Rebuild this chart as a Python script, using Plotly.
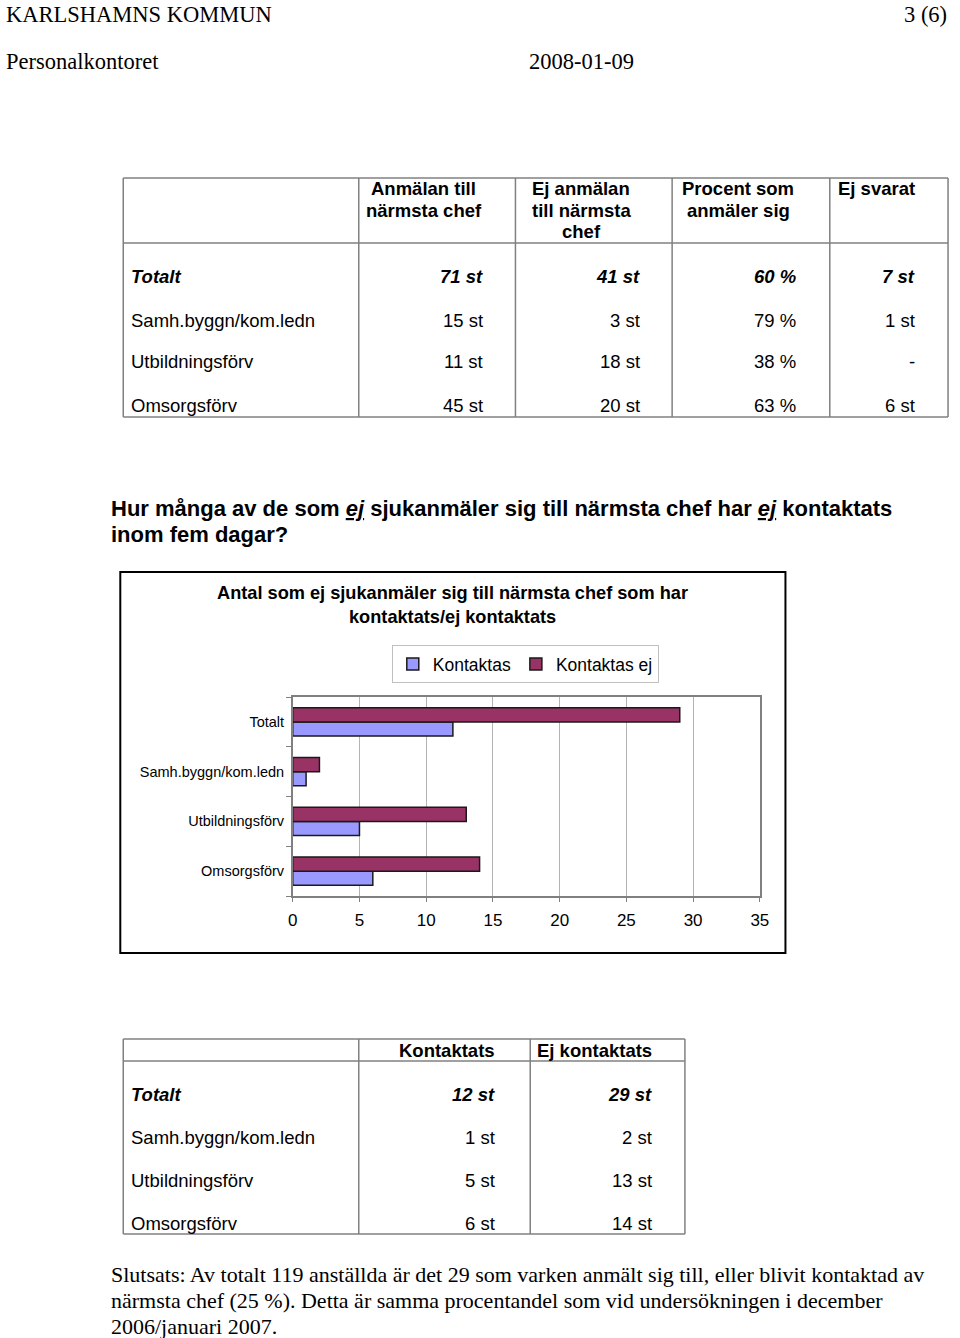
import plotly.graph_objects as go

W, H = 960, 1338

# ---------------- data ----------------
categories = ["Totalt", "Samh.byggn/kom.ledn", "Utbildningsförv", "Omsorgsförv"]
kontaktas = [12, 1, 5, 6]
kontaktas_ej = [29, 2, 13, 14]

anmalan = [71, 15, 11, 45]
ej_anmalan = [41, 3, 18, 20]
procent = [60, 79, 38, 63]
ej_svarat = [7, 1, None, 6]

table1_headers = [["Anmälan till", "närmsta chef"],
                  ["Ej anmälan", "till närmsta", "chef"],
                  ["Procent som", "anmäler sig"],
                  ["Ej svarat"]]
table2_headers = ["Kontaktats", "Ej kontaktats"]

SANS = "Liberation Sans"
SERIF = "Liberation Serif"


def px(x):
    return x / W


def py(y):
    return 1 - y / H


annotations = []
shapes = []


def text(t, x, y, size, family=SANS, xanchor="left", color="black"):
    annotations.append(dict(
        text=t, x=px(x), y=py(y), xref="paper", yref="paper",
        xanchor=xanchor, yanchor="middle", showarrow=False,
        font=dict(family=family, size=size, color=color), borderpad=0))


def line(x0, y0, x1, y1, color="#808080", width=1.5):
    shapes.append(dict(type="line", xref="paper", yref="paper",
                       x0=px(x0), y0=py(y0), x1=px(x1), y1=py(y1),
                       line=dict(color=color, width=width)))


# ---------------- page header ----------------
text("KARLSHAMNS KOMMUN", 0, 14.5, 22.5, SERIF)
text("3 (6)", 957, 14.5, 22.5, SERIF, xanchor="right")
text("Personalkontoret", 0, 62, 22.5, SERIF)
text("2008-01-09", 531, 62, 22.5, SERIF)

# ---------------- table 1 ----------------
T1_L, T1_R, T1_T, T1_B, T1_HB = 120, 957, 178, 417, 243
t1_cols = [359, 518, 677, 837]
line(T1_L, T1_T, T1_R, T1_T)
line(T1_L, T1_B, T1_R, T1_B)
line(T1_L, T1_HB, T1_R, T1_HB)
line(T1_L, T1_T, T1_L, T1_B)
line(T1_R, T1_T, T1_R, T1_B)
for c in t1_cols:
    line(c, T1_T, c, T1_B)

hdr_centers = [425, 585, 744]
for hc, lines_ in zip(hdr_centers, table1_headers[:3]):
    for i, l in enumerate(lines_):
        text("<b>" + l + "</b>", hc, 189 + i * 21.5, 18.5, xanchor="center")
text("<b>" + table1_headers[3][0] + "</b>", 844, 189, 18.5)

row_y1 = [276, 320, 362, 405]
val_right1 = [486, 645, 804, 924]
for i, cat in enumerate(categories):
    vals = [f"{anmalan[i]} st", f"{ej_anmalan[i]} st", f"{procent[i]} %",
            "-" if ej_svarat[i] is None else f"{ej_svarat[i]} st"]
    if i == 0:
        text("<b><i>" + cat + "</i></b>", 127, row_y1[i], 18.5)
        for v, xr in zip(vals, val_right1):
            text("<b><i>" + v + "</i></b>", xr, row_y1[i], 18.5, xanchor="right")
    else:
        text(cat, 127, row_y1[i], 18.5)
        for v, xr in zip(vals, val_right1):
            text(v, xr, row_y1[i], 18.5, xanchor="right")

# ---------------- question ----------------
text("<b>Hur många av de som <u><i>ej</i></u> sjukanmäler sig till närmsta chef har "
     "<u><i>ej</i></u> kontaktats</b>", 107, 508, 22)
text("<b>inom fem dagar?</b>", 107, 534, 22)

# ---------------- chart ----------------
shapes.append(dict(type="rect", xref="paper", yref="paper",
                   x0=px(117), x1=px(792), y0=py(953), y1=py(572),
                   line=dict(color="black", width=2)))
text("<b>Antal som ej sjukanmäler sig till närmsta chef som har</b>", 454, 593, 18.2,
     xanchor="center")
text("<b>kontaktats/ej kontaktats</b>", 454, 617, 18.2, xanchor="center")

fig = go.Figure()
fig.add_trace(go.Bar(
    y=categories, x=kontaktas, orientation="h", name="Kontaktas",
    marker=dict(color="#9999FF", line=dict(color="#1a1a1a", width=1.5))))
fig.add_trace(go.Bar(
    y=categories, x=kontaktas_ej, orientation="h", name="Kontaktas ej",
    marker=dict(color="#993366", line=dict(color="#1a1a1a", width=1.5))))

# ---------------- table 2 ----------------
T2_L, T2_R, T2_T, T2_B, T2_HB = 120, 690, 1039, 1234, 1061
t2_cols = [359, 533]
line(T2_L, T2_T, T2_R, T2_T)
line(T2_L, T2_B, T2_R, T2_B)
line(T2_L, T2_HB, T2_R, T2_HB)
line(T2_L, T2_T, T2_L, T2_B)
line(T2_R, T2_T, T2_R, T2_B)
for c in t2_cols:
    line(c, T2_T, c, T2_B)

val_right2 = [498, 658]
for h, xr in zip(table2_headers, val_right2):
    text("<b>" + h + "</b>", xr, 1050, 18.5, xanchor="right")
row_y2 = [1094, 1137, 1180, 1223]
for i, cat in enumerate(categories):
    vals = [f"{kontaktas[i]} st", f"{kontaktas_ej[i]} st"]
    if i == 0:
        text("<b><i>" + cat + "</i></b>", 127, row_y2[i], 18.5)
        for v, xr in zip(vals, val_right2):
            text("<b><i>" + v + "</i></b>", xr, row_y2[i], 18.5, xanchor="right")
    else:
        text(cat, 127, row_y2[i], 18.5)
        for v, xr in zip(vals, val_right2):
            text(v, xr, row_y2[i], 18.5, xanchor="right")

# ---------------- conclusion ----------------
concl = ["Slutsats: Av totalt 119 anställda är det 29 som varken anmält sig till, eller blivit kontaktad av",
         "närmsta chef (25 %). Detta är samma procentandel som vid undersökningen i december",
         "2006/januari 2007."]
for i, l in enumerate(concl):
    text(l, 107, 1274 + i * 26, 22, SERIF)

fig.update_layout(
    width=W, height=H, margin=dict(l=0, r=0, t=0, b=0),
    paper_bgcolor="white", plot_bgcolor="white",
    barmode="group", bargap=0.43, bargroupgap=0,
    showlegend=True,
    legend=dict(orientation="h", x=px(528), xanchor="center", y=py(645), yanchor="top",
                bgcolor="white", bordercolor="#c0c0c0", borderwidth=1,
                font=dict(family=SANS, size=17.5, color="black"),
                itemwidth=30, traceorder="normal"),
    xaxis=dict(domain=[px(292), px(766)], range=[0, 35], tick0=0, dtick=5,
               showgrid=True, gridcolor="#b4b4b4", gridwidth=1,
               zeroline=False, showline=True, linecolor="#808080", linewidth=1.5,
               mirror=True, ticks="outside", ticklen=4, tickcolor="#808080",
               ticklabelstandoff=4,
               tickfont=dict(family=SANS, size=17, color="black"), fixedrange=True),
    yaxis=dict(domain=[py(896), py(697)], categoryorder="array",
               categoryarray=categories[::-1], tickson="boundaries",
               ticks="outside", ticklen=5, tickcolor="#808080",
               showline=True, linecolor="#808080", linewidth=1.5, mirror=True,
               showgrid=False, ticklabelstandoff=4,
               tickfont=dict(family=SANS, size=14.5, color="black"), fixedrange=True),
    annotations=annotations, shapes=shapes,
)

fig.write_html(
    "out.html",
    config={"responsive": False, "displayModeBar": False},
    post_script="document.body.style.margin='0';document.body.style.overflow='hidden';"
                "document.documentElement.style.overflow='hidden';",
)
